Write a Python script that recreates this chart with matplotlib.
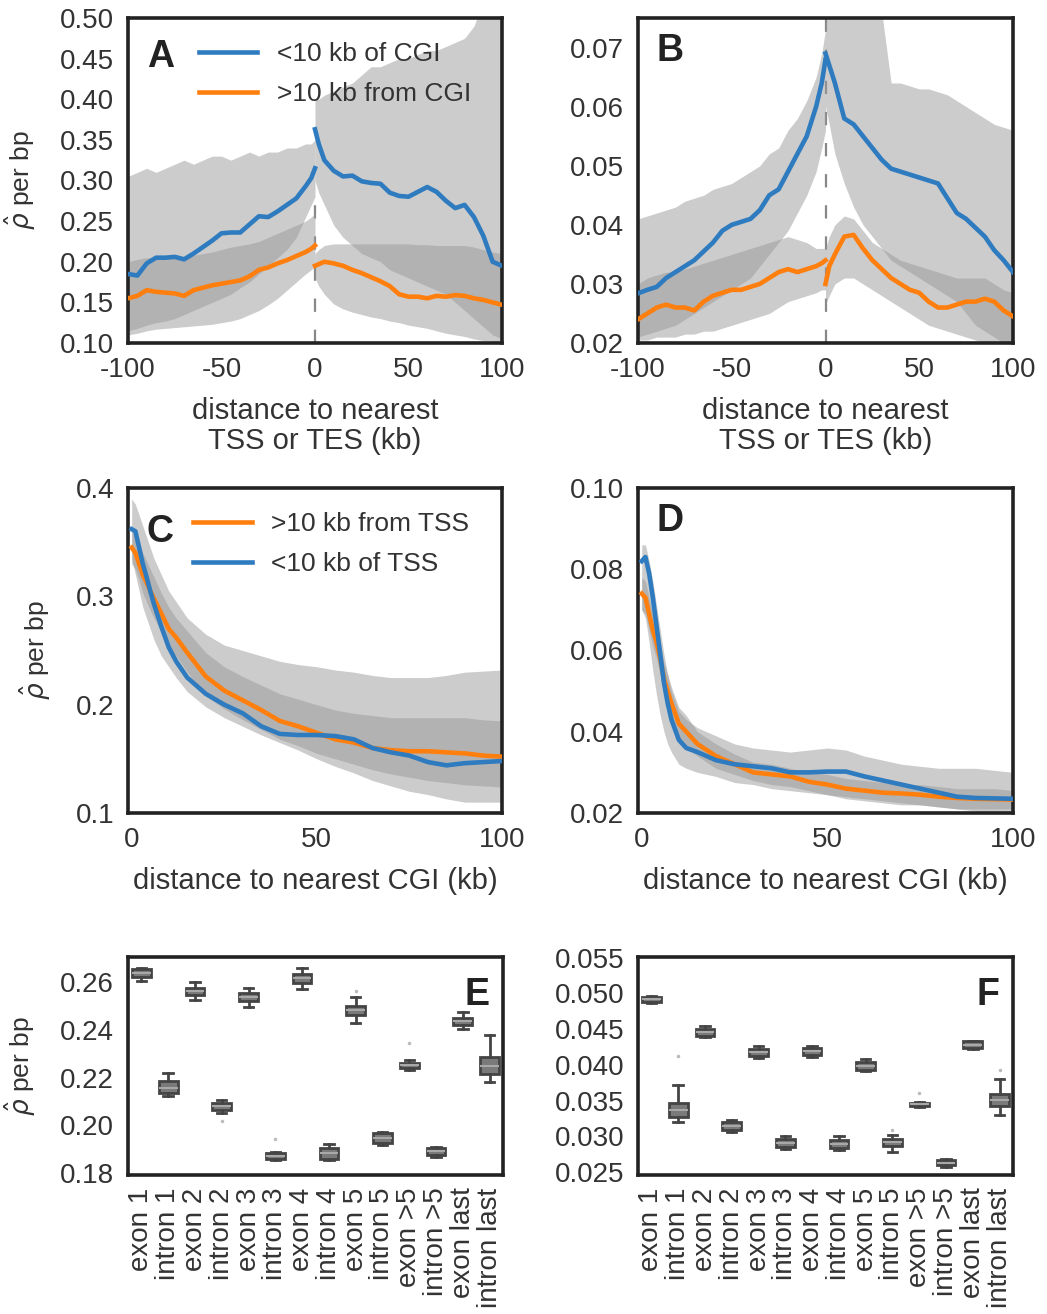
import matplotlib
matplotlib.use('Agg')
import matplotlib.pyplot as plt

# ---------------- data ----------------
BLUE = '#2f7bbf'
ORANGE = '#ff7f0e'
BAND = '#9a9a9a'
TXT = '#333333'

# panels A/B: distance to TSS/TES, split at 0
x_left = [-100, -95, -90, -85, -80, -75, -70, -65, -60, -55, -50, -45, -40, -35, -30, -25, -20, -15, -10, -5, -2, 0]
x_right = [0, 2, 5, 10, 15, 20, 25, 30, 35, 40, 45, 50, 55, 60, 65, 70, 75, 80, 85, 90, 95, 100]

a_blue_left = [0.185, 0.183, 0.198, 0.205, 0.205, 0.206, 0.203, 0.210, 0.218, 0.226, 0.235, 0.236, 0.236, 0.246, 0.256, 0.255, 0.262, 0.270, 0.278, 0.293, 0.303, 0.315]
a_blue_right = [0.363, 0.345, 0.325, 0.312, 0.305, 0.306, 0.299, 0.297, 0.296, 0.285, 0.281, 0.280, 0.286, 0.292, 0.286, 0.275, 0.266, 0.270, 0.255, 0.232, 0.200, 0.195]
a_orange_left = [0.155, 0.158, 0.165, 0.163, 0.162, 0.161, 0.158, 0.165, 0.168, 0.171, 0.173, 0.175, 0.177, 0.182, 0.190, 0.193, 0.198, 0.202, 0.207, 0.212, 0.216, 0.220]
a_orange_right = [0.195, 0.197, 0.200, 0.198, 0.195, 0.190, 0.186, 0.181, 0.176, 0.170, 0.160, 0.157, 0.157, 0.155, 0.158, 0.157, 0.159, 0.158, 0.155, 0.153, 0.150, 0.147]

a_blue_left_hi = [0.305, 0.310, 0.315, 0.310, 0.315, 0.320, 0.325, 0.320, 0.325, 0.330, 0.330, 0.325, 0.330, 0.335, 0.330, 0.335, 0.335, 0.340, 0.340, 0.345, 0.345, 0.350]
a_blue_left_lo = [0.115, 0.118, 0.122, 0.125, 0.127, 0.130, 0.135, 0.140, 0.145, 0.150, 0.155, 0.160, 0.168, 0.175, 0.185, 0.195, 0.205, 0.215, 0.230, 0.255, 0.270, 0.280]
a_orange_left_hi = [0.200, 0.203, 0.205, 0.205, 0.205, 0.205, 0.205, 0.208, 0.210, 0.212, 0.215, 0.218, 0.220, 0.222, 0.225, 0.230, 0.235, 0.240, 0.245, 0.250, 0.255, 0.260]
a_orange_left_lo = [0.110, 0.112, 0.115, 0.117, 0.118, 0.119, 0.120, 0.121, 0.122, 0.123, 0.125, 0.127, 0.130, 0.135, 0.140, 0.147, 0.155, 0.165, 0.175, 0.185, 0.190, 0.195]
a_blue_right_hi = [0.400, 0.400, 0.405, 0.410, 0.415, 0.420, 0.430, 0.440, 0.440, 0.445, 0.450, 0.450, 0.455, 0.460, 0.460, 0.465, 0.470, 0.475, 0.490, 0.520, 0.530, 0.540]
a_blue_right_lo = [0.300, 0.285, 0.270, 0.245, 0.230, 0.220, 0.210, 0.205, 0.200, 0.190, 0.185, 0.180, 0.175, 0.170, 0.165, 0.160, 0.150, 0.140, 0.130, 0.120, 0.110, 0.105]
a_orange_right_hi = [0.210, 0.215, 0.220, 0.222, 0.222, 0.222, 0.222, 0.222, 0.222, 0.222, 0.222, 0.222, 0.221, 0.221, 0.220, 0.220, 0.220, 0.220, 0.218, 0.215, 0.212, 0.210]
a_orange_right_lo = [0.180, 0.170, 0.160, 0.148, 0.142, 0.138, 0.135, 0.132, 0.130, 0.127, 0.125, 0.122, 0.120, 0.118, 0.115, 0.112, 0.110, 0.108, 0.105, 0.103, 0.102, 0.100]

b_blue_left = [0.0284, 0.029, 0.0295, 0.031, 0.032, 0.033, 0.034, 0.0355, 0.037, 0.039, 0.040, 0.0405, 0.041, 0.0425, 0.045, 0.046, 0.049, 0.052, 0.055, 0.060, 0.064, 0.068]
b_blue_right = [0.069, 0.067, 0.064, 0.058, 0.057, 0.055, 0.053, 0.051, 0.0495, 0.049, 0.0485, 0.048, 0.0475, 0.047, 0.0445, 0.042, 0.041, 0.0395, 0.038, 0.0357, 0.034, 0.032]
b_orange_left = [0.024, 0.025, 0.026, 0.0265, 0.026, 0.026, 0.0255, 0.027, 0.028, 0.0285, 0.029, 0.029, 0.0295, 0.030, 0.031, 0.032, 0.0325, 0.032, 0.0325, 0.033, 0.0335, 0.034]
b_orange_right = [0.030, 0.033, 0.035, 0.038, 0.0383, 0.036, 0.034, 0.0325, 0.031, 0.030, 0.029, 0.0285, 0.027, 0.026, 0.026, 0.0265, 0.027, 0.027, 0.0275, 0.027, 0.0255, 0.0245]

b_blue_left_hi = [0.041, 0.0415, 0.042, 0.0425, 0.043, 0.044, 0.0445, 0.045, 0.046, 0.0465, 0.047, 0.048, 0.049, 0.050, 0.052, 0.053, 0.056, 0.058, 0.061, 0.065, 0.069, 0.073]
b_blue_left_lo = [0.021, 0.0215, 0.022, 0.0225, 0.023, 0.024, 0.025, 0.026, 0.027, 0.028, 0.029, 0.030, 0.031, 0.033, 0.035, 0.037, 0.039, 0.042, 0.045, 0.049, 0.053, 0.056]
b_orange_left_hi = [0.030, 0.031, 0.0315, 0.032, 0.032, 0.0325, 0.033, 0.0335, 0.034, 0.0345, 0.035, 0.0355, 0.036, 0.0365, 0.037, 0.0375, 0.038, 0.0375, 0.037, 0.036, 0.036, 0.036]
b_orange_left_lo = [0.0205, 0.0205, 0.021, 0.021, 0.021, 0.0215, 0.0215, 0.022, 0.022, 0.0225, 0.023, 0.0235, 0.024, 0.0245, 0.025, 0.026, 0.027, 0.0275, 0.028, 0.0285, 0.029, 0.029]
b_blue_right_hi = [0.074, 0.076, 0.076, 0.076, 0.076, 0.076, 0.076, 0.076, 0.064, 0.064, 0.0635, 0.063, 0.063, 0.0625, 0.062, 0.061, 0.060, 0.059, 0.058, 0.057, 0.0565, 0.056]
b_blue_right_lo = [0.060, 0.057, 0.052, 0.047, 0.043, 0.040, 0.038, 0.036, 0.034, 0.033, 0.032, 0.031, 0.030, 0.029, 0.028, 0.027, 0.025, 0.023, 0.022, 0.021, 0.020, 0.020]
b_orange_right_hi = [0.036, 0.038, 0.040, 0.0415, 0.041, 0.039, 0.037, 0.036, 0.035, 0.034, 0.0335, 0.033, 0.0325, 0.032, 0.0315, 0.031, 0.031, 0.031, 0.031, 0.030, 0.029, 0.0285]
b_orange_right_lo = [0.0265, 0.028, 0.030, 0.031, 0.031, 0.030, 0.029, 0.028, 0.027, 0.026, 0.025, 0.024, 0.023, 0.0225, 0.022, 0.0215, 0.021, 0.0205, 0.020, 0.020, 0.020, 0.020]

# panel C: distance to nearest CGI
c_x = [0, 1, 2, 3, 4, 5, 6, 8, 10, 12, 15, 20, 25, 30, 35, 40, 45, 50, 55, 60, 65, 70, 75, 80, 85, 90, 95, 100]
c_blue = [0.362, 0.360, 0.345, 0.330, 0.318, 0.305, 0.293, 0.272, 0.253, 0.240, 0.225, 0.210, 0.200, 0.192, 0.180, 0.173, 0.172, 0.172, 0.171, 0.168, 0.160, 0.156, 0.153, 0.147, 0.144, 0.146, 0.147, 0.148]
c_orange = [0.345, 0.340, 0.330, 0.320, 0.313, 0.305, 0.298, 0.284, 0.270, 0.262, 0.248, 0.226, 0.213, 0.204, 0.195, 0.185, 0.180, 0.174, 0.168, 0.165, 0.160, 0.158, 0.157, 0.157, 0.156, 0.155, 0.153, 0.152]
c_blue_hi = [0.390, 0.385, 0.375, 0.365, 0.355, 0.345, 0.335, 0.320, 0.305, 0.295, 0.280, 0.265, 0.255, 0.250, 0.245, 0.240, 0.237, 0.235, 0.232, 0.230, 0.227, 0.225, 0.225, 0.225, 0.227, 0.230, 0.231, 0.232]
c_blue_lo = [0.335, 0.320, 0.305, 0.290, 0.280, 0.270, 0.260, 0.245, 0.235, 0.225, 0.212, 0.198, 0.188, 0.180, 0.172, 0.165, 0.158, 0.150, 0.143, 0.137, 0.130, 0.125, 0.120, 0.117, 0.113, 0.110, 0.110, 0.110]
c_orange_hi = [0.360, 0.355, 0.350, 0.340, 0.333, 0.325, 0.318, 0.303, 0.290, 0.280, 0.268, 0.248, 0.235, 0.226, 0.218, 0.210, 0.205, 0.200, 0.195, 0.192, 0.190, 0.188, 0.188, 0.188, 0.188, 0.188, 0.186, 0.185]
c_orange_lo = [0.330, 0.325, 0.315, 0.303, 0.295, 0.287, 0.280, 0.267, 0.253, 0.245, 0.230, 0.208, 0.196, 0.186, 0.177, 0.168, 0.162, 0.155, 0.150, 0.145, 0.140, 0.136, 0.133, 0.130, 0.128, 0.126, 0.125, 0.124]

# panel D
d_x = [0, 1, 2, 3, 4, 5, 6, 7, 8, 10, 12, 15, 20, 25, 30, 35, 40, 45, 50, 55, 60, 65, 70, 75, 80, 85, 90, 95, 100]
d_blue = [0.082, 0.083, 0.079, 0.073, 0.066, 0.059, 0.052, 0.047, 0.043, 0.038, 0.036, 0.035, 0.033, 0.032, 0.0315, 0.031, 0.030, 0.030, 0.0302, 0.0302, 0.029, 0.028, 0.027, 0.026, 0.025, 0.024, 0.0237, 0.0236, 0.0235]
d_orange = [0.074, 0.073, 0.069, 0.065, 0.062, 0.058, 0.053, 0.050, 0.047, 0.042, 0.040, 0.037, 0.034, 0.032, 0.030, 0.0295, 0.029, 0.0277, 0.027, 0.026, 0.0255, 0.025, 0.0248, 0.0245, 0.024, 0.0237, 0.0235, 0.0234, 0.0233]
d_blue_hi = [0.086, 0.086, 0.082, 0.077, 0.071, 0.065, 0.059, 0.054, 0.050, 0.045, 0.043, 0.041, 0.039, 0.037, 0.036, 0.0355, 0.035, 0.0355, 0.036, 0.0355, 0.034, 0.033, 0.032, 0.0315, 0.031, 0.031, 0.031, 0.0305, 0.030]
d_blue_lo = [0.070, 0.068, 0.062, 0.055, 0.049, 0.044, 0.040, 0.037, 0.035, 0.032, 0.031, 0.030, 0.029, 0.0275, 0.027, 0.026, 0.0255, 0.025, 0.0245, 0.024, 0.0235, 0.023, 0.0225, 0.022, 0.0215, 0.021, 0.0205, 0.020, 0.020]
d_orange_hi = [0.078, 0.077, 0.073, 0.069, 0.066, 0.062, 0.057, 0.054, 0.051, 0.046, 0.044, 0.040, 0.037, 0.0345, 0.0325, 0.032, 0.031, 0.030, 0.0295, 0.0285, 0.028, 0.0275, 0.027, 0.027, 0.0265, 0.026, 0.026, 0.026, 0.0255]
d_orange_lo = [0.070, 0.069, 0.065, 0.061, 0.058, 0.054, 0.049, 0.046, 0.043, 0.038, 0.036, 0.034, 0.031, 0.0295, 0.028, 0.027, 0.0265, 0.0255, 0.0245, 0.0235, 0.023, 0.0225, 0.022, 0.022, 0.0215, 0.021, 0.021, 0.021, 0.021]

# panels E/F: gene features (box stats)
features = ['exon 1', 'intron 1', 'exon 2', 'intron 2', 'exon 3', 'intron 3',
            'exon 4', 'intron 4', 'exon 5', 'intron 5', 'exon >5', 'intron >5',
            'exon last', 'intron last']

e_whislo = [0.2604, 0.2123, 0.2525, 0.2054, 0.2495, 0.1856, 0.2572, 0.1854, 0.2430, 0.1920, 0.2233, 0.1870, 0.2402, 0.2182]
e_q1 = [0.2622, 0.2134, 0.2546, 0.2065, 0.2521, 0.1861, 0.2597, 0.1861, 0.2461, 0.1925, 0.2239, 0.1875, 0.2420, 0.2214]
e_med = [0.2639, 0.2158, 0.2562, 0.2082, 0.2537, 0.1872, 0.2615, 0.1886, 0.2482, 0.1946, 0.2252, 0.1893, 0.2437, 0.2249]
e_q3 = [0.2653, 0.2186, 0.2576, 0.2095, 0.2555, 0.1884, 0.2632, 0.1907, 0.2500, 0.1967, 0.2263, 0.1906, 0.2451, 0.2286]
e_whishi = [0.2660, 0.2218, 0.2600, 0.2107, 0.2575, 0.1889, 0.2660, 0.1924, 0.2535, 0.1974, 0.2272, 0.1912, 0.2475, 0.2377]
e_fliers = [[], [], [], [0.2019], [], [0.1942], [], [], [0.2562], [], [0.2346], [], [], []]

f_whislo = [0.04863, 0.03198, 0.04384, 0.03063, 0.04095, 0.02826, 0.04109, 0.02816, 0.03909, 0.02779, 0.03412, 0.02574, 0.04221, 0.03305]
f_q1 = [0.04886, 0.03267, 0.04407, 0.03095, 0.04119, 0.02853, 0.04133, 0.02840, 0.03933, 0.02863, 0.03430, 0.02593, 0.04235, 0.03421]
f_med = [0.04919, 0.03374, 0.04458, 0.03142, 0.04174, 0.02909, 0.04188, 0.02895, 0.03988, 0.02919, 0.03449, 0.02630, 0.04281, 0.03514]
f_q3 = [0.04956, 0.03467, 0.04505, 0.03198, 0.04226, 0.02965, 0.04235, 0.02956, 0.04040, 0.02965, 0.03467, 0.02667, 0.04328, 0.03593]
f_whishi = [0.04965, 0.03723, 0.04551, 0.03226, 0.04258, 0.03012, 0.04267, 0.03012, 0.04086, 0.03026, 0.03477, 0.02677, 0.04337, 0.03802]
f_fliers = [[], [0.04119], [], [], [], [], [], [], [], [0.03095], [0.03607], [], [], [0.03933]]

# ---------------- styling ----------------
plt.rcParams['font.family'] = ['Liberation Sans', 'DejaVu Sans']
plt.rcParams['text.color'] = TXT
plt.rcParams['axes.labelcolor'] = TXT
plt.rcParams['xtick.color'] = TXT
plt.rcParams['ytick.color'] = TXT

TICK_FS = 20
LABEL_FS = 21
YLABEL_FS = 19
YLABEL = r'$\hat{\rho}$ per bp'

fig = plt.figure(figsize=(10.47, 13.14), dpi=100)
W, H = 1047.0, 1314.0


def make_ax(left, top, width, height):
    ax = fig.add_axes([left / W, 1 - (top + height) / H, width / W, height / H])
    for s in ax.spines.values():
        s.set_linewidth(2.6)
        s.set_color('#222222')
    ax.tick_params(length=0, labelsize=TICK_FS, pad=10)
    return ax


def band(ax, x, lo, hi):
    ax.fill_between(x, lo, hi, color=BAND, alpha=0.5, linewidth=0, zorder=1)


def letter(ax, txt, x, y, ha='left'):
    ax.text(x, y, txt, transform=ax.transAxes, fontsize=27, fontweight='bold',
            ha=ha, va='top', color='#222222', zorder=5)


LEG = dict(loc='upper left', frameon=False, fontsize=19, handlelength=2.2,
           handletextpad=0.75, borderpad=0, borderaxespad=0, labelspacing=0.6)
LW = 3.3

# ---- A ----
axA = make_ax(128, 18, 374, 325)
axA.axvline(0, ymin=0, ymax=0.45, color='#888888', lw=1.6, ls=(0, (6, 8)), zorder=0.5)
band(axA, x_left, a_blue_left_lo, a_blue_left_hi)
band(axA, x_left, a_orange_left_lo, a_orange_left_hi)
band(axA, x_right, a_blue_right_lo, a_blue_right_hi)
band(axA, x_right, a_orange_right_lo, a_orange_right_hi)
axA.plot(x_left, a_blue_left, color=BLUE, lw=LW, zorder=3, label='<10 kb of CGI')
axA.plot(x_right, a_blue_right, color=BLUE, lw=LW, zorder=3)
axA.plot(x_left, a_orange_left, color=ORANGE, lw=LW, zorder=3, label='>10 kb from CGI')
axA.plot(x_right, a_orange_right, color=ORANGE, lw=LW, zorder=3)
axA.set_xlim(-100, 100)
axA.set_ylim(0.10, 0.50)
axA.set_xticks([-100, -50, 0, 50, 100])
axA.set_xticklabels(['-100', '-50', '0', '50', '100'])
axA.set_yticks([0.10, 0.15, 0.20, 0.25, 0.30, 0.35, 0.40, 0.45, 0.50])
axA.set_yticklabels(['%.2f' % v for v in axA.get_yticks()])
axA.set_xlabel('distance to nearest\nTSS or TES (kb)', fontsize=LABEL_FS, labelpad=10, linespacing=1.1)
axA.set_ylabel(YLABEL, fontsize=YLABEL_FS)
axA.yaxis.set_label_coords(-0.24, 0.5)
axA.legend(bbox_to_anchor=(0.19, 0.925), **LEG)
letter(axA, 'A', 0.05, 0.935)

# ---- B ----
axB = make_ax(638, 18, 375, 325)
axB.axvline(0, color='#888888', lw=1.6, ls=(0, (6, 8)), zorder=0.5)
band(axB, x_left, b_blue_left_lo, b_blue_left_hi)
band(axB, x_left, b_orange_left_lo, b_orange_left_hi)
band(axB, x_right, b_blue_right_lo, b_blue_right_hi)
band(axB, x_right, b_orange_right_lo, b_orange_right_hi)
axB.plot(x_left, b_blue_left, color=BLUE, lw=LW, zorder=3)
axB.plot(x_right, b_blue_right, color=BLUE, lw=LW, zorder=3)
axB.plot(x_left, b_orange_left, color=ORANGE, lw=LW, zorder=3)
axB.plot(x_right, b_orange_right, color=ORANGE, lw=LW, zorder=3)
axB.set_xlim(-100, 100)
axB.set_ylim(0.02, 0.075)
axB.set_xticks([-100, -50, 0, 50, 100])
axB.set_xticklabels(['-100', '-50', '0', '50', '100'])
axB.set_yticks([0.02, 0.03, 0.04, 0.05, 0.06, 0.07])
axB.set_yticklabels(['%.2f' % v for v in axB.get_yticks()])
axB.set_xlabel('distance to nearest\nTSS or TES (kb)', fontsize=LABEL_FS, labelpad=10, linespacing=1.1)
letter(axB, 'B', 0.05, 0.955)

# ---- C ----
axC = make_ax(128, 488, 374, 325)
band(axC, c_x, c_blue_lo, c_blue_hi)
band(axC, c_x, c_orange_lo, c_orange_hi)
axC.plot(c_x, c_orange, color=ORANGE, lw=LW, zorder=3, label='>10 kb from TSS')
axC.plot(c_x, c_blue, color=BLUE, lw=LW, zorder=3, label='<10 kb of TSS')
axC.set_xlim(-1, 100)
axC.set_ylim(0.10, 0.40)
axC.set_xticks([0, 50, 100])
axC.set_yticks([0.1, 0.2, 0.3, 0.4])
axC.set_yticklabels(['0.1', '0.2', '0.3', '0.4'])
axC.set_xlabel('distance to nearest CGI (kb)', fontsize=LABEL_FS, labelpad=10)
axC.set_ylabel(YLABEL, fontsize=YLABEL_FS)
axC.yaxis.set_label_coords(-0.2, 0.5)
axC.legend(bbox_to_anchor=(0.175, 0.925), **LEG)
letter(axC, 'C', 0.05, 0.92)

# ---- D ----
axD = make_ax(638, 488, 375, 325)
band(axD, d_x, d_blue_lo, d_blue_hi)
band(axD, d_x, d_orange_lo, d_orange_hi)
axD.plot(d_x, d_orange, color=ORANGE, lw=LW, zorder=3)
axD.plot(d_x, d_blue, color=BLUE, lw=LW, zorder=3)
axD.set_xlim(-1, 100)
axD.set_ylim(0.02, 0.10)
axD.set_xticks([0, 50, 100])
axD.set_yticks([0.02, 0.04, 0.06, 0.08, 0.10])
axD.set_yticklabels(['%.2f' % v for v in axD.get_yticks()])
axD.set_xlabel('distance to nearest CGI (kb)', fontsize=LABEL_FS, labelpad=10)
letter(axD, 'D', 0.05, 0.955)


# ---- E / F ----
def boxes(ax, lo, q1, med, q3, hi, fliers):
    stats = []
    for i in range(len(features)):
        stats.append(dict(whislo=lo[i], q1=q1[i], med=med[i], q3=q3[i],
                          whishi=hi[i], fliers=fliers[i]))
    ax.bxp(stats, positions=list(range(len(features))), widths=0.7, patch_artist=True,
           boxprops=dict(facecolor='#7a7a7a', edgecolor='#444444', linewidth=2),
           medianprops=dict(color='#a8a8a8', linewidth=1.5),
           whiskerprops=dict(color='#444444', linewidth=2),
           capprops=dict(color='#444444', linewidth=2),
           flierprops=dict(marker='o', markersize=1.5, markerfacecolor='#bbbbbb',
                           markeredgecolor='#bbbbbb'))
    ax.set_xlim(-0.5, len(features) - 0.5)
    ax.set_xticks(list(range(len(features))))
    ax.set_xticklabels(features, rotation=90)
    ax.tick_params(axis='x', pad=9)


axE = make_ax(128, 957, 375, 218)
boxes(axE, e_whislo, e_q1, e_med, e_q3, e_whishi, e_fliers)
axE.set_ylim(0.1793, 0.2704)
axE.set_yticks([0.18, 0.20, 0.22, 0.24, 0.26])
axE.set_yticklabels(['0.18', '0.20', '0.22', '0.24', '0.26'])
axE.set_ylabel(YLABEL, fontsize=YLABEL_FS)
axE.yaxis.set_label_coords(-0.24, 0.5)
letter(axE, 'E', 0.965, 0.91, ha='right')

axF = make_ax(638, 957, 375, 218)
boxes(axF, f_whislo, f_q1, f_med, f_q3, f_whishi, f_fliers)
axF.set_ylim(0.0246, 0.0551)
axF.set_yticks([0.025, 0.030, 0.035, 0.040, 0.045, 0.050, 0.055])
axF.set_yticklabels(['%.3f' % v for v in axF.get_yticks()])
letter(axF, 'F', 0.965, 0.91, ha='right')

fig.savefig('out.png', dpi=100)
